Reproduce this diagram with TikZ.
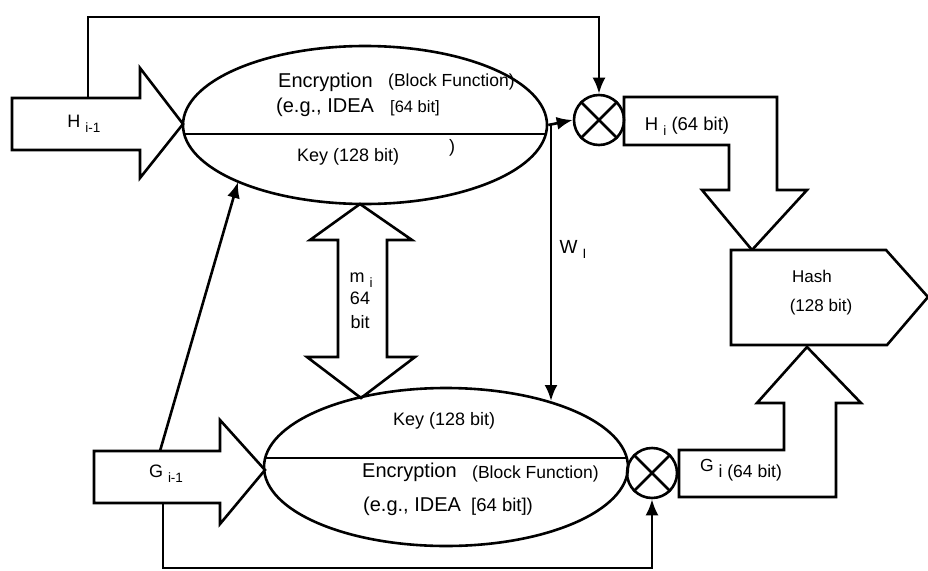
\documentclass[tikz,border=0pt]{standalone}
\usepackage{fontspec}
\setmainfont{Liberation Sans}
\usetikzlibrary{shapes.geometric,arrows.meta}
\newcommand{\taille}[1]{\fontsize{#1}{#1}\selectfont}
\newcommand{\bas}[1]{\raisebox{-0.5ex}{\taille{13.5}#1}}

\begin{document}
\begin{tikzpicture}[x=1pt,y=-1pt]
% Styles
\tikzstyle{trait}=[line width=2.6pt,line join=miter]
\tikzstyle{fleche}=[trait,-{Latex[length=16pt,width=13pt]}]
\tikzstyle{large}=[trait,draw,fill=white]
\tikzstyle{bloc}=[ellipse,draw,line width=2.6pt,minimum width=364pt,minimum height=158pt,inner sep=0]
\tikzstyle{xor}=[circle,draw,line width=2.6pt,minimum size=50pt,inner sep=0]
\tikzstyle{texte}=[inner sep=0,anchor=base west]
\tikzstyle{etiquette}=[inner sep=0]
\useasboundingbox (0,0) rectangle (928,570);
% Fleches larges
\draw[large] (12,98) -- (140,98) -- (140,68) -- (183,124) -- (140,178) -- (140,150) -- (12,150) -- cycle;
\draw[large] (94,451) -- (220,451) -- (220,420) -- (265,470) -- (220,524) -- (220,503) -- (94,503) -- cycle;
\draw[large] (360,204) -- (412,240) -- (387,240) -- (387,357) -- (415,357) -- (361,398)
  -- (307,357) -- (338,357) -- (338,240) -- (310,240) -- cycle;
\draw[large] (624,97) -- (777,97) -- (777,190) -- (807,190) -- (752,250) -- (702,190)
  -- (729,190) -- (729,145) -- (624,145) -- cycle;
\draw[large] (679,450) -- (784,450) -- (784,403) -- (757,403) -- (807,347) -- (861,403)
  -- (836,403) -- (836,497) -- (679,497) -- cycle;
\draw[large] (731,250) -- (886,250) -- (928,297) -- (887,345) -- (731,345) -- cycle;
% Noeuds
\node[bloc] (ChiffH) at (365,125) {};
\node[bloc] (ChiffG) at (446,467) {};
\node[xor] (XorH) at (599,120) {};
\node[xor] (XorG) at (652,473) {};
\draw[trait] (XorH.45) -- (XorH.225) (XorH.135) -- (XorH.315);
\draw[trait] (XorG.45) -- (XorG.225) (XorG.135) -- (XorG.315);
\draw[trait] (184,134) -- (546,134);
\draw[trait] (266,458) -- (626,458);
% Textes
\node[texte] (EncH) at (278,87) {\taille{20}Encryption};
\node[texte] (FctH) at (388,86) {\taille{17.5}(Block Function)};
\node[texte] (IdeaH) at (276,112) {\taille{20}(e.g., IDEA};
\node[texte] (BitH) at (390,112) {\taille{16.5}[64 bit]};
\node[texte] (KeyH) at (297,161) {\taille{18}Key (128 bit)};
\node[texte] (ParH) at (449,152) {\taille{18})};
\node[texte] (KeyG) at (393,425) {\taille{18}Key (128 bit)};
\node[texte] (EncG) at (362,477) {\taille{20}Encryption};
\node[texte] (FctG) at (472,478) {\taille{17.5}(Block Function)};
\node[texte] (IdeaG) at (363,511) {\taille{20}(e.g., IDEA};
\node[texte] (BitG) at (471,511) {\taille{18.5}[64 bit])};
\node[etiquette] (Hprec) at (84,124) {\taille{18}H \bas{i-1}};
\node[etiquette] (Gprec) at (166,474) {\taille{18}G \bas{i-1}};
\node[etiquette] (Hi) at (687,126) {\taille{18.5}H \bas{i} (64 bit)};
\node[etiquette] (Gi) at (741,470) {\taille{17.5}\raisebox{0.6ex}{G} i (64 bit)};
\node[etiquette] (Wi) at (573,249) {\taille{19}W \bas{I}};
\node[etiquette] (Mi) at (361,280) {\taille{18}m \bas{i}};
\node[etiquette] (Msz) at (360,298) {\taille{18}64};
\node[etiquette] (Mbit) at (360,322) {\taille{18}bit};
\node[etiquette] (Hash) at (812,276) {\taille{17}Hash};
\node[etiquette] (HashBit) at (821,307) {\taille{17}(128 bit)};
% Points de depart
\coordinate (HfB) at (88,98);
\coordinate (Haut) at (400,17);
\coordinate (GfB) at (163,503);
\coordinate (Bas) at (400,568);
\coordinate (GDiag) at (160,451);
\coordinate (HDiag) at (238,182);
\coordinate (Wdep) at (551,124);
\coordinate (Wfin) at (551,401);
% Arcs
\draw[fleche] (HfB) |- (Haut) -| (XorH.north);
\draw[fleche] (ChiffH.east) -- (XorH.west);
\draw[fleche] (Wdep) -- (Wfin);
\draw[fleche] (GDiag) -- (HDiag);
\draw[fleche] (GfB) |- (Bas) -| (XorG.south);
\end{tikzpicture}
\end{document}
